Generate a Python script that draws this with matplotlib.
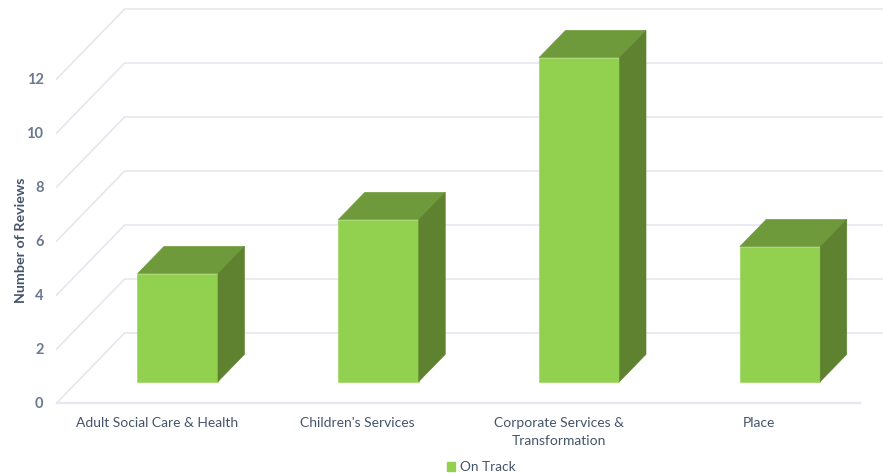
import matplotlib
matplotlib.use("Agg")
import matplotlib.pyplot as plt
from matplotlib.patches import Patch

# Review counts per directorate
categories = ["Adult Social Care & Health", "Children's Services",
              "Corporate Services &\nTransformation", "Place"]
on_track = [4, 6, 12, 5]
y_ticks = [0, 2, 4, 6, 8, 10, 12]
series_name = "On Track"
y_title = "Number of Reviews"

FRONT, TOP, SIDE = "#92D050", "#6F9A3C", "#5E8230"
GRID = "#E5E7EE"
LABEL = "#44546A"
TICK = "#6A7890"

W, H = 883, 473
plt.rcParams["font.family"] = ["Lato", "DejaVu Sans"]

fig = plt.figure(figsize=(W / 100, H / 100), dpi=100)
ax = fig.add_axes([0, 0, 1, 1])

# Data scales: one category is 200.75 px wide, one review is 27 px tall
CAT_PX, VAL_PX = 200.75, 27.0
X0, Y0 = 157.0, 403.0
ax.set_xlim(-X0 / CAT_PX, (W - X0) / CAT_PX)
ax.set_ylim((Y0 - H) / VAL_PX, Y0 / VAL_PX)
ax.axis("off")

# Oblique projection: depth 1 is the back wall of the chart floor
DEPTH_X, DEPTH_Y = 68 / CAT_PX, 70 / VAL_PX


def project(x, y, depth):
    return x + depth * DEPTH_X, y + depth * DEPTH_Y


left_edge = -0.5
right_edge = 3.5

# Gridlines: a diagonal on the side wall, then a run along the back wall
for v in y_ticks:
    p0 = project(left_edge, v, 0)
    p1 = project(left_edge, v, 1)
    p2 = project(right_edge, v, 1)
    ax.plot([p0[0], p1[0], p2[0]], [p0[1], p1[1], p2[1]], color=GRID, lw=1.2,
            solid_joinstyle="miter", zorder=1)
ax.plot([left_edge, right_edge], [0, 0], color=GRID, lw=1.6, zorder=1)

# 3-D columns
BAR_W = 80.5 / CAT_PX
D_FRONT, D_BACK = 0.305, 0.695


def face(points, color):
    xs, ys = zip(*[project(*p) for p in points])
    ax.fill(xs, ys, color=color, lw=0.4, zorder=3)


for i, v in enumerate(on_track):
    l, r = i - BAR_W / 2, i + BAR_W / 2
    face([(l, 0, D_FRONT), (r, 0, D_FRONT), (r, v, D_FRONT), (l, v, D_FRONT)], FRONT)
    face([(l, v, D_FRONT), (r, v, D_FRONT), (r, v, D_BACK), (l, v, D_BACK)], TOP)
    face([(r, 0, D_FRONT), (r, 0, D_BACK), (r, v, D_BACK), (r, v, D_FRONT)], SIDE)

# Axis text
for v in y_ticks:
    ax.text(43.5 / CAT_PX - X0 / CAT_PX, v - 0.03, str(v), ha="right", va="center",
            fontsize=10.5, fontweight="bold", color=TICK)
for i, name in enumerate(categories):
    ax.text(i, -0.52, name, ha="center", va="top", fontsize=10, color=LABEL,
            linespacing=1.55)
fig.text(21 / W, 1 - 240 / H, y_title, rotation=90, ha="center", va="center",
         fontsize=10.3, fontweight="bold", color=LABEL)

fig.legend(handles=[Patch(color=FRONT, label=series_name)],
           loc="center", bbox_to_anchor=(481.5 / W, 1 - 467 / H), frameon=False,
           fontsize=9.8, labelcolor=LABEL, handlelength=0.6, handleheight=0.6,
           handletextpad=0.4, borderpad=0)

fig.savefig("out.png", dpi=100)
